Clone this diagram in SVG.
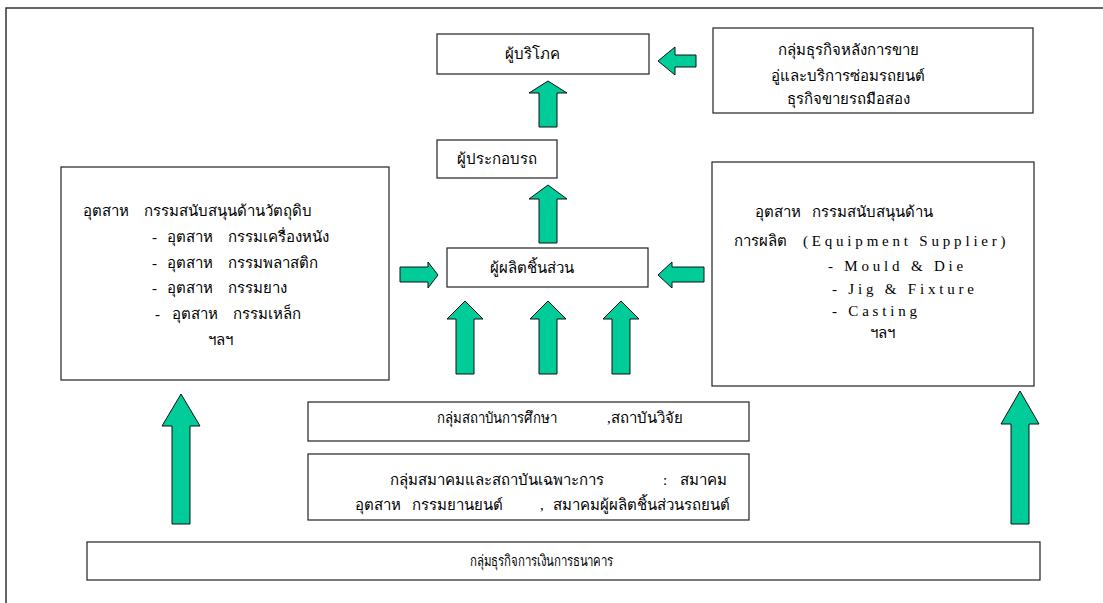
<svg xmlns="http://www.w3.org/2000/svg" width="1103" height="603" viewBox="0 0 1103 603">
<style>
.box{fill:#fff;stroke:#222;stroke-width:1.2}
.arr{fill:#00CC99;stroke:#111;stroke-width:1}
.th{font-family:"Liberation Serif","DejaVu Serif",serif;font-size:15px;fill:#000}
.ths{font-family:"Liberation Sans","DejaVu Sans",sans-serif;font-size:15px;fill:#000}
.en{font-family:"Liberation Serif",serif;font-size:15px;letter-spacing:3.8px;fill:#000}
</style>
<rect width="1103" height="603" fill="#fff"/>
<path d="M6,603 V8 H1103" fill="none" stroke="#333" stroke-width="1.5"/>

<g id="consumer">
<rect class="box" x="437" y="34" width="212" height="40"/>
<text class="ths" x="532" y="59" text-anchor="middle">ผู้บริโภค</text>
</g>
<g id="aftersales">
<rect class="box" x="713" y="28" width="320" height="85"/>
<text class="th" x="848" y="55" text-anchor="middle">กลุ่มธุรกิจหลังการขาย</text>
<text class="th" x="848" y="81" text-anchor="middle">อู่และบริการซ่อมรถยนต์</text>
<text class="th" x="848" y="104" text-anchor="middle">ธุรกิจขายรถมือสอง</text>
</g>
<g id="assembler">
<rect class="box" x="437" y="140" width="120" height="38"/>
<text class="ths" x="497" y="164" text-anchor="middle" font-size="14">ผู้ประกอบรถ</text>
</g>
<g id="parts">
<rect class="box" x="447" y="248" width="201" height="39"/>
<text class="ths" x="532" y="273" text-anchor="middle">ผู้ผลิตชิ้นส่วน</text>
</g>
<g id="rawmaterial">
<rect class="box" x="61" y="167" width="328" height="213"/>
<text class="th" y="216"><tspan x="83">อุตสาห</tspan><tspan x="144">กรรมสนับสนุนด้านวัตถุดิบ</tspan></text>
<text class="th" y="242"><tspan x="152">-</tspan><tspan x="167">อุตสาห</tspan><tspan x="228">กรรมเครื่องหนัง</tspan></text>
<text class="th" y="268"><tspan x="152">-</tspan><tspan x="167">อุตสาห</tspan><tspan x="228">กรรมพลาสติก</tspan></text>
<text class="th" y="293"><tspan x="152">-</tspan><tspan x="167">อุตสาห</tspan><tspan x="228">กรรมยาง</tspan></text>
<text class="th" y="319"><tspan x="155">-</tspan><tspan x="172">อุตสาห</tspan><tspan x="233">กรรมเหล็ก</tspan></text>
<text class="th" x="208" y="345">ฯลฯ</text>
</g>
<g id="equipment">
<rect class="box" x="712" y="162" width="322" height="224"/>
<text class="th" y="217"><tspan x="755">อุตสาห</tspan><tspan x="812">กรรมสนับสนุนด้าน</tspan></text>
<text class="th" x="734" y="246">การผลิต</text>
<text class="en" x="803" y="246">(Equipment Supplier)</text>
<text class="en" x="828" y="271">- Mould &amp; Die</text>
<text class="en" x="832" y="294">- Jig &amp; Fixture</text>
<text class="en" x="832" y="316">- Casting</text>
<text class="th" x="870" y="338">ฯลฯ</text>
</g>
<g id="education">
<rect class="box" x="308" y="402" width="441" height="39"/>
<text class="th" y="423"><tspan x="437" textLength="120" lengthAdjust="spacingAndGlyphs">กลุ่มสถาบันการศึกษา</tspan><tspan x="607">,สถาบันวิจัย</tspan></text>
</g>
<g id="association">
<rect class="box" x="308" y="454" width="441" height="66"/>
<text class="th" y="485"><tspan x="390">กลุ่มสมาคมและสถาบันเฉพาะการ</tspan><tspan x="663">:</tspan><tspan x="680">สมาคม</tspan></text>
<text class="th" y="510"><tspan x="355">อุตสาห</tspan><tspan x="412">กรรมยานยนต์</tspan><tspan x="540">,</tspan><tspan x="553">สมาคมผู้ผลิตชิ้นส่วนรถยนต์</tspan></text>
</g>
<g id="finance">
<rect class="box" x="87" y="542" width="953" height="38"/>
<text class="th" x="470" y="566" textLength="143" lengthAdjust="spacingAndGlyphs">กลุ่มธุรกิจการเงินการธนาคาร</text>
</g>

<g id="connectors">
<polygon class="arr" points="658,61 675,47 675,55 696,55 696,67 675,67 675,75"/>
<polygon class="arr" points="548,81 567,93 557,93 557,127 539,127 539,93 529,93"/>
<polygon class="arr" points="548,185 567,199 557,199 557,243 539,243 539,199 529,199"/>
<polygon class="arr" points="438,275 428,262 428,267 400,267 400,282 428,282 428,288"/>
<polygon class="arr" points="658,275 672,262 672,267 704,267 704,282 672,282 672,288"/>
<polygon class="arr" points="465,301 483,319 474,319 474,374 456,374 456,319 447,319"/>
<polygon class="arr" points="548,301 566,319 557,319 557,374 539,374 539,319 530,319"/>
<polygon class="arr" points="621,301 639,319 630,319 630,374 612,374 612,319 603,319"/>
<polygon class="arr" points="181,394 200,426 190,426 190,524 172,524 172,426 162,426"/>
<polygon class="arr" points="1020,391 1039,424 1029,424 1029,524 1011,524 1011,424 1001,424"/>
</g>
</svg>
